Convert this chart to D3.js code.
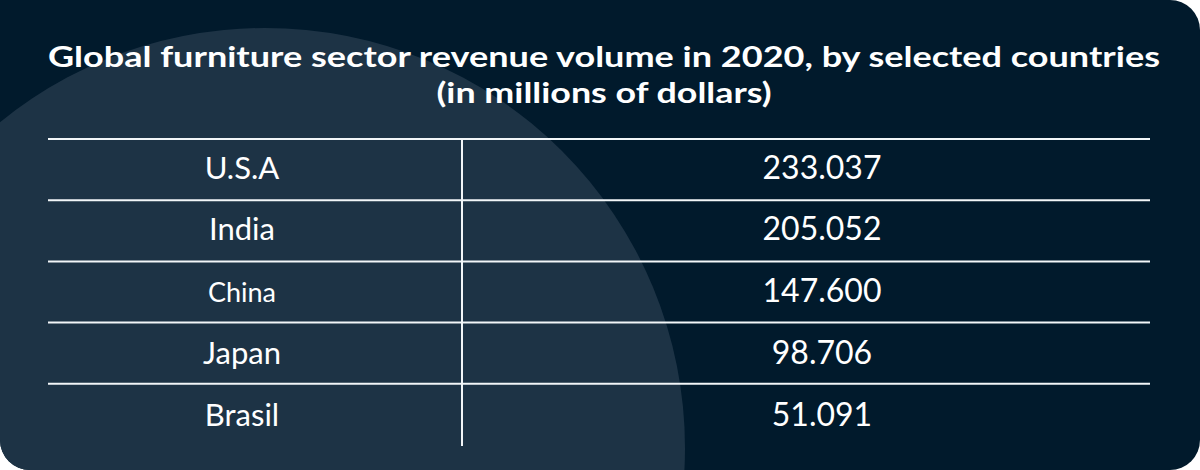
<!DOCTYPE html>
<html>
<head>
<meta charset="utf-8">
<script src="https://cdn.jsdelivr.net/npm/d3@7"></script>
<style>
    html, body { margin: 0; padding: 0; background: #ffffff; }
    svg { display: block; }
    text { font-family: 'Lato', 'Inter', sans-serif; fill: #ffffff; }
</style>
</head>
<body>
<div id="chart"></div>
<script>
// ── Data ─────────────────────────────────────────────────
const titleLines = [
    'Global furniture sector revenue volume in 2020, by selected countries',
    '(in millions of dollars)'
];
const countries = ['U.S.A', 'India', 'China', 'Japan', 'Brasil'];
const revenue = ['233.037', '205.052', '147.600', '98.706', '51.091'];

const W = 1200;
const H = 470;
const R = 30; // card corner radius (top-left stays square)

const svg = d3.select('#chart')
    .append('svg')
    .attr('width', W)
    .attr('height', H);

// Card outline
const cardPath = d3.path();
cardPath.moveTo(0, 0);
cardPath.lineTo(W - R, 0);
cardPath.arcTo(W, 0, W, R, R);
cardPath.lineTo(W, H - R);
cardPath.arcTo(W, H, W - R, H, R);
cardPath.lineTo(R, H);
cardPath.arcTo(0, H, 0, H - R, R);
cardPath.closePath();

const defs = svg.append('defs');
defs.append('clipPath')
    .attr('id', 'card-clip')
    .append('path')
    .attr('d', cardPath.toString());

const card = svg.append('g').attr('clip-path', 'url(#card-clip)');
card.append('rect')
    .attr('width', W)
    .attr('height', H)
    .attr('fill', '#011a2c');

// Big soft circle on the left
card.append('circle')
    .attr('cx', 265)
    .attr('cy', 448)
    .attr('r', 420)
    .attr('fill', '#1d3345');

// ── Title ────────────────────────────────────────────────
svg.append('text')
    .attr('x', 604)
    .attr('y', 67)
    .attr('text-anchor', 'middle')
    .attr('textLength', 1112)
    .attr('lengthAdjust', 'spacingAndGlyphs')
    .style('font-size', '28px')
    .style('font-weight', 700)
    .text(titleLines[0]);

svg.append('text')
    .attr('x', 604)
    .attr('y', 103)
    .attr('text-anchor', 'middle')
    .attr('textLength', 335)
    .attr('lengthAdjust', 'spacingAndGlyphs')
    .style('font-size', '28px')
    .style('font-weight', 700)
    .text(titleLines[1]);

// ── Table ────────────────────────────────────────────────
const tableLeft = 48;
const tableRight = 1150;
const divider = 462;

const y = d3.scaleBand()
    .domain(countries)
    .range([139, 445]);

const rows = svg.append('g')
    .selectAll('g')
    .data(countries)
    .enter()
    .append('g')
    .attr('transform', d => `translate(0,${y(d)})`);

rows.append('line')
    .attr('x1', tableLeft)
    .attr('x2', tableRight)
    .attr('y1', 0)
    .attr('y2', 0)
    .attr('stroke', '#f2f6f8')
    .attr('stroke-width', 2);

rows.append('text')
    .attr('x', 242)
    .attr('y', (d, i) => 39.5 + i * 0.7)
    .attr('text-anchor', 'middle')
    .style('font-size', d => d === 'China' ? '27px' : '31px')
    .text(d => d);

rows.append('text')
    .attr('x', 822)
    .attr('y', (d, i) => 39.5 + i * 0.7)
    .attr('text-anchor', 'middle')
    .style('font-size', '32px')
    .text((d, i) => revenue[i]);

svg.append('line')
    .attr('x1', divider)
    .attr('x2', divider)
    .attr('y1', y.range()[0])
    .attr('y2', y.range()[1] + 1)
    .attr('stroke', '#f2f6f8')
    .attr('stroke-width', 2);
</script>
</body>
</html>
